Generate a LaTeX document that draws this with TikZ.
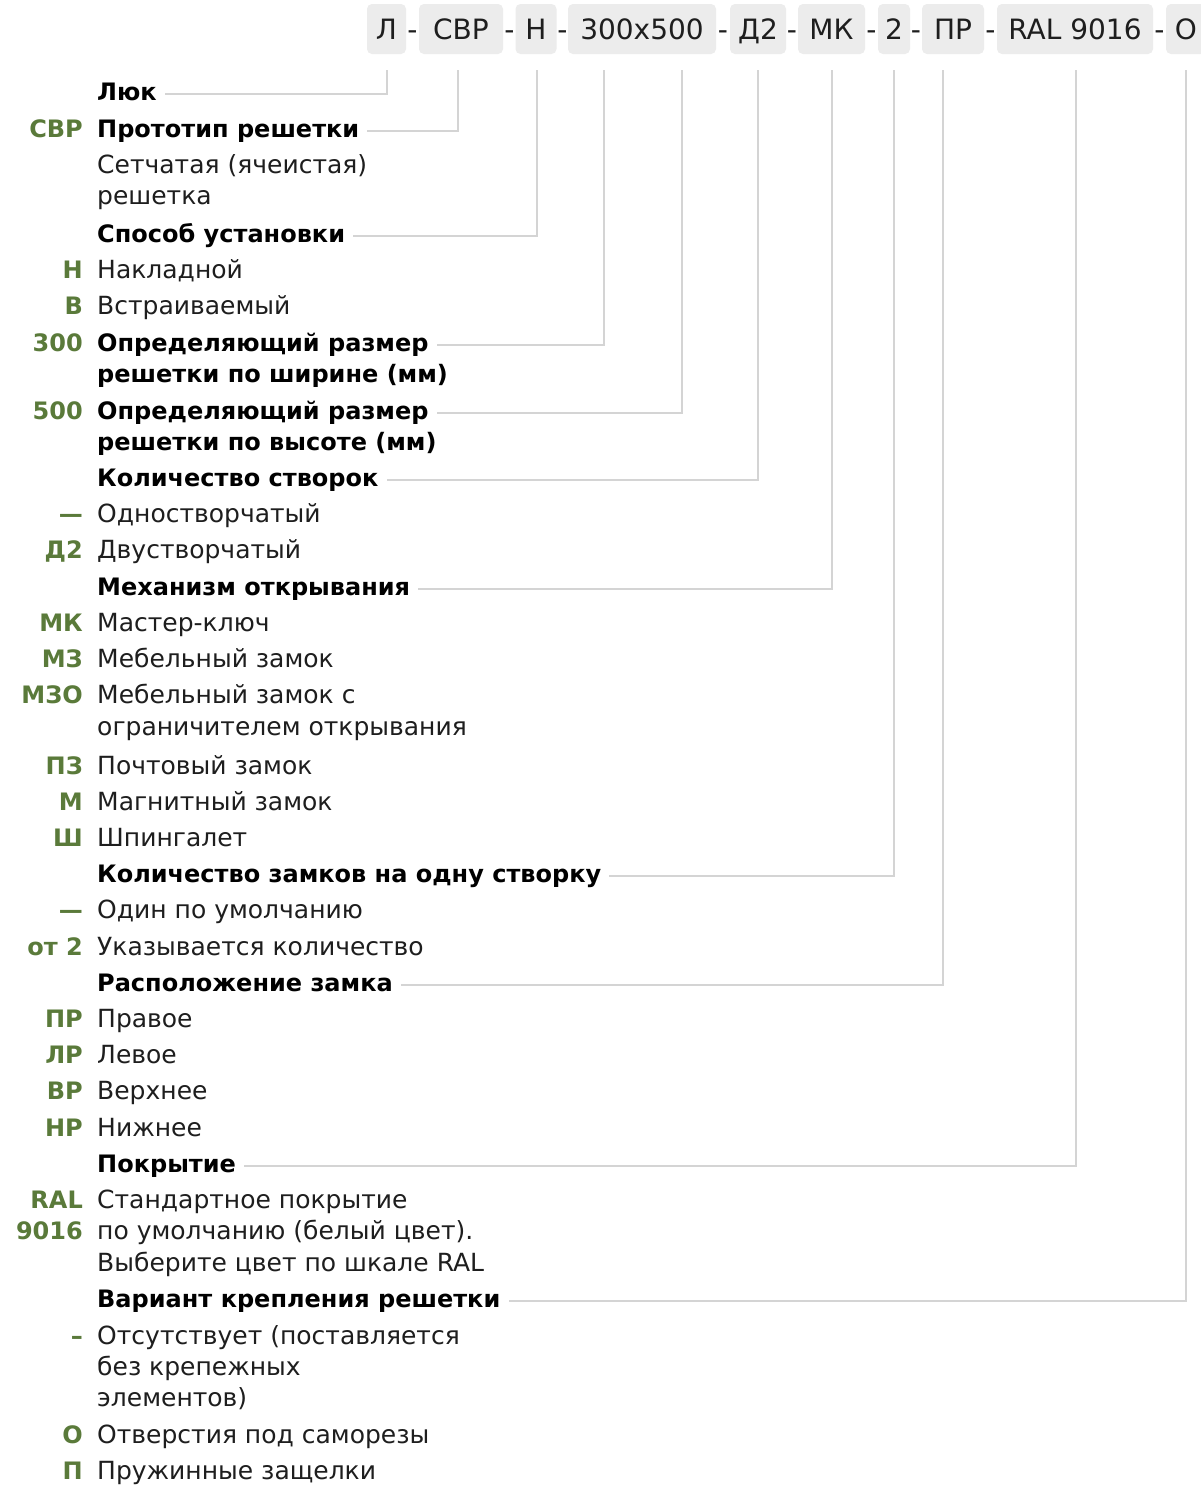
\documentclass[tikz,border=0pt]{standalone}
\usepackage{fontspec}
\setmainfont{DejaVu Sans}
\usepackage{tikz}
\usetikzlibrary{positioning}
\definecolor{codegreen}{RGB}{90,122,58}
\definecolor{boxgray}{RGB}{236,236,236}
\definecolor{linegray}{RGB}{212,212,212}
\definecolor{txt}{RGB}{30,30,30}

\begin{document}
\begin{tikzpicture}[x=1pt, y=-1pt,
    every node/.style={inner sep=0pt, font=\fontsize{24}{29}\selectfont},
    heading/.style={anchor=base west, text height=17pt, text depth=5pt, font=\fontsize{24}{29}\selectfont\bfseries},
    entry/.style={anchor=base west, text=txt, font=\fontsize{25}{29}\selectfont},
    codelbl/.style={anchor=base east, text=codegreen, font=\fontsize{24}{29}\selectfont\bfseries},
    box/.style={fill=boxgray, rounded corners=5pt, minimum height=50pt, text height=21pt, text depth=0pt, font=\fontsize{28}{30}\selectfont, text=txt},
    dashlbl/.style={text height=21pt, text depth=0pt, font=\fontsize{28}{30}\selectfont, text=txt},
    conn/.style={draw=linegray, line width=1.5pt}]

    \fill[white] (0,0) rectangle (1200,1489);
    \useasboundingbox (0,0) rectangle (1200,1489);

    % article code
    \node[box, minimum width=39pt] (bL) at (386.5,29) {Л};
    \node[dashlbl] (d1) at (412.5,29) {-};
    \node[box, minimum width=84pt] (bSVR) at (461,29) {СВР};
    \node[dashlbl] (d2) at (509.5,29) {-};
    \node[box, minimum width=41pt] (bN) at (536,29) {Н};
    \node[dashlbl] (d3) at (562.5,29) {-};
    \node[box, minimum width=148pt] (bSize) at (642,29) {300x500};
    \node[dashlbl] (d4) at (723,29) {-};
    \node[box, minimum width=56pt] (bD2) at (758,29) {Д2};
    \node[dashlbl] (d5) at (792,29) {-};
    \node[box, minimum width=67pt] (bMK) at (831.5,29) {МК};
    \node[dashlbl] (d6) at (871.5,29) {-};
    \node[box, minimum width=32pt] (bTwo) at (894,29) {2};
    \node[dashlbl] (d7) at (916,29) {-};
    \node[box, minimum width=62pt] (bPR) at (953,29) {ПР};
    \node[dashlbl] (d8) at (990.5,29) {-};
    \node[box, minimum width=156pt] (bRAL) at (1075,29) {RAL 9016};
    \node[dashlbl] (d9) at (1159.5,29) {-};
    \node[box, minimum width=40pt] (bO) at (1186,29) {О};

    \coordinate (tL) at (387,70);
    \coordinate (tSVR) at (458,70);
    \coordinate (tN) at (537,70);
    \coordinate (t300) at (604,70);
    \coordinate (t500) at (682,70);
    \coordinate (tD2) at (758,70);
    \coordinate (tMK) at (832,70);
    \coordinate (tTwo) at (894,70);
    \coordinate (tPR) at (943,70);
    \coordinate (tRAL) at (1076,70);
    \coordinate (tO) at (1186,70);

    % legend
    \node[heading] (hLuk) at (97,100) {Люк};
    \node[codelbl] (cSVR) at (83,137) {СВР};
    \node[heading] (hProto) at (97,137) {Прототип решетки};
    \node[entry] (eGrid1) at (97,173) {Сетчатая (ячеистая)};
    \node[entry] (eGrid2) at (97,204) {решетка};

    \node[heading] (hMount) at (97,242) {Способ установки};
    \node[codelbl] (cN) at (83,278) {Н};
    \node[entry] (eN) at (97,278) {Накладной};
    \node[codelbl] (cV) at (83,314) {В};
    \node[entry] (eV) at (97,314) {Встраиваемый};

    \node[codelbl] (c300) at (83,351) {300};
    \node[heading] (hWidth) at (97,351) {Определяющий размер};
    \node[heading] (hWidth2) at (97,382) {решетки по ширине (мм)};
    \node[codelbl] (c500) at (83,419) {500};
    \node[heading] (hHeight) at (97,419) {Определяющий размер};
    \node[heading] (hHeight2) at (97,450) {решетки по высоте (мм)};

    \node[heading] (hLeaves) at (97,486) {Количество створок};
    \node[codelbl] (cOne) at (83,522) {—};
    \node[entry] (eOne) at (97,522) {Одностворчатый};
    \node[codelbl] (cD2) at (83,558) {Д2};
    \node[entry] (eD2) at (97,558) {Двустворчатый};

    \node[heading] (hMech) at (97,595) {Механизм открывания};
    \node[codelbl] (cMK) at (83,631) {МК};
    \node[entry] (eMK) at (97,631) {Мастер-ключ};
    \node[codelbl] (cMZ) at (83,667) {МЗ};
    \node[entry] (eMZ) at (97,667) {Мебельный замок};
    \node[codelbl] (cMZO) at (83,703) {МЗО};
    \node[entry] (eMZO1) at (97,703) {Мебельный замок с};
    \node[entry] (eMZO2) at (97,735) {ограничителем открывания};
    \node[codelbl] (cPZ) at (83,774) {ПЗ};
    \node[entry] (ePZ) at (97,774) {Почтовый замок};
    \node[codelbl] (cM) at (83,810) {М};
    \node[entry] (eM) at (97,810) {Магнитный замок};
    \node[codelbl] (cSh) at (83,846) {Ш};
    \node[entry] (eSh) at (97,846) {Шпингалет};

    \node[heading] (hLocks) at (97,882) {Количество замков на одну створку};
    \node[codelbl] (cOneLock) at (83,918) {—};
    \node[entry] (eOneLock) at (97,918) {Один по умолчанию};
    \node[codelbl] (cFrom2) at (83,955) {от 2};
    \node[entry] (eFrom2) at (97,955) {Указывается количество};

    \node[heading] (hPlace) at (97,991) {Расположение замка};
    \node[codelbl] (cPR) at (83,1027) {ПР};
    \node[entry] (ePR) at (97,1027) {Правое};
    \node[codelbl] (cLR) at (83,1063) {ЛР};
    \node[entry] (eLR) at (97,1063) {Левое};
    \node[codelbl] (cVR) at (83,1099) {ВР};
    \node[entry] (eVR) at (97,1099) {Верхнее};
    \node[codelbl] (cNR) at (83,1136) {НР};
    \node[entry] (eNR) at (97,1136) {Нижнее};

    \node[heading] (hCoat) at (97,1172) {Покрытие};
    \node[codelbl] (cRAL1) at (83,1208) {RAL};
    \node[entry] (eRAL1) at (97,1208) {Стандартное покрытие};
    \node[codelbl] (cRAL2) at (83,1239) {9016};
    \node[entry] (eRAL2) at (97,1239) {по умолчанию (белый цвет).};
    \node[entry] (eRAL3) at (97,1271) {Выберите цвет по шкале RAL};

    \node[heading] (hFix) at (97,1307) {Вариант крепления решетки};
    \node[codelbl] (cNone) at (83,1344) {–};
    \node[entry] (eNone1) at (97,1344) {Отсутствует (поставляется};
    \node[entry] (eNone2) at (97,1375) {без крепежных};
    \node[entry] (eNone3) at (97,1406) {элементов)};
    \node[codelbl] (cO) at (83,1443) {О};
    \node[entry] (eO) at (97,1443) {Отверстия под саморезы};
    \node[codelbl] (cP) at (83,1479) {П};
    \node[entry] (eP) at (97,1479) {Пружинные защелки};

    % leader lines
    \draw[conn] (tL) |- ([xshift=8pt]hLuk.east);
    \draw[conn] (tSVR) |- ([xshift=8pt]hProto.east);
    \draw[conn] (tN) |- ([xshift=8pt]hMount.east);
    \draw[conn] (t300) |- ([xshift=8pt]hWidth.east);
    \draw[conn] (t500) |- ([xshift=8pt]hHeight.east);
    \draw[conn] (tD2) |- ([xshift=8pt]hLeaves.east);
    \draw[conn] (tMK) |- ([xshift=8pt]hMech.east);
    \draw[conn] (tTwo) |- ([xshift=8pt]hLocks.east);
    \draw[conn] (tPR) |- ([xshift=8pt]hPlace.east);
    \draw[conn] (tRAL) |- ([xshift=8pt]hCoat.east);
    \draw[conn] (tO) |- ([xshift=8pt]hFix.east);

\end{tikzpicture}
\end{document}
